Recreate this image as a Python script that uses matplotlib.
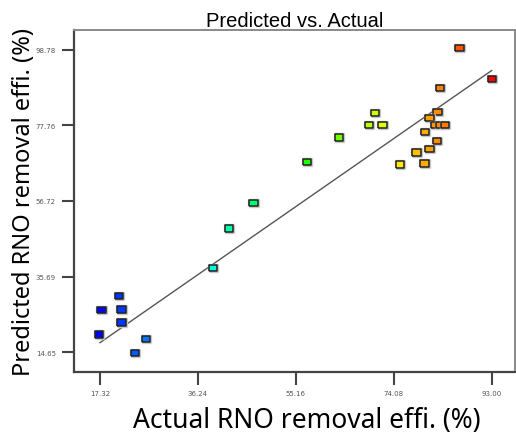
import matplotlib
matplotlib.use("Agg")
import matplotlib.pyplot as plt
import matplotlib.patheffects as pe
from matplotlib.colors import LinearSegmentedColormap, Normalize

# actual vs predicted RNO removal efficiency (%)
actual = [86.75, 93.0, 83.0, 70.4, 82.5, 80.95, 69.25, 71.9, 82.0, 83.0, 84.0,
          80.1, 63.5, 82.4, 81.0, 78.5, 57.3, 75.3, 80.0,
          46.95, 42.2, 39.2, 21.0, 17.6, 21.5, 21.5, 17.1, 26.15, 24.1]
predicted = [99.25, 90.6, 88.1, 81.15, 81.5, 79.8, 77.9, 77.9, 77.9, 77.9, 77.9,
             75.85, 74.36, 73.35, 71.2, 70.2, 67.5, 66.85, 67.1,
             56.1, 49.05, 38.1, 30.3, 26.4, 26.5, 22.9, 19.55, 18.3, 14.45]

xticks = [17.32, 36.24, 55.16, 74.08, 93.00]
yticks = [14.65, 35.69, 56.72, 77.76, 98.78]

cmap = LinearSegmentedColormap.from_list(
    "de", ["#0000ff", "#00ffff", "#00ff00", "#ffff00", "#ff0000"])
norm = Normalize(min(actual), max(actual))

fig = plt.figure(figsize=(5.16, 4.35), dpi=100)
ax = fig.add_axes([74/516, 62/435, 441/516, 342/435])

# y = x reference line
ax.plot([17.32, 93.0], [17.32, 93.0], color="#555555", lw=1.0, zorder=2)

rect = [(-1.3, -1), (1.3, -1), (1.3, 1), (-1.3, 1), (-1.3, -1)]
sc = ax.scatter(actual, predicted, c=actual, cmap=cmap, norm=norm,
                marker=rect, s=36, edgecolors="#222222", linewidths=1.1, zorder=3)
sc.set_path_effects([pe.withStroke(linewidth=2.4, foreground="#c8c8c8")])

ax.set_xlim(12.3, 97.5)
ax.set_ylim(9.17, 104.26)
ax.set_xticks(xticks)
ax.set_xticklabels(["%.2f" % v for v in xticks])
ax.set_yticks(yticks)
ax.set_yticklabels(["%.2f" % v for v in yticks])
ax.tick_params(labelsize=5, labelcolor="#555555", color="#444444",
               length=9, width=1.5, pad=4)

for s in ["left", "bottom"]:
    ax.spines[s].set_color("#444444")
    ax.spines[s].set_linewidth(1.6)
for s in ["top", "right"]:
    ax.spines[s].set_color("#8a8a8a")
    ax.spines[s].set_linewidth(1.4)

ax.set_title("Predicted vs. Actual", fontsize=14.5, family="Liberation Sans", pad=3)
ax.set_xlabel("Actual RNO removal effi. (%)", fontsize=19, family="Noto Sans")
ax.xaxis.set_label_coords(0.529, -0.10)
ax.set_ylabel("Predicted RNO removal effi. (%)", fontsize=17, family="Noto Sans")
ax.yaxis.set_label_coords(-0.087, 0.5)

fig.savefig("out.png", dpi=100)
